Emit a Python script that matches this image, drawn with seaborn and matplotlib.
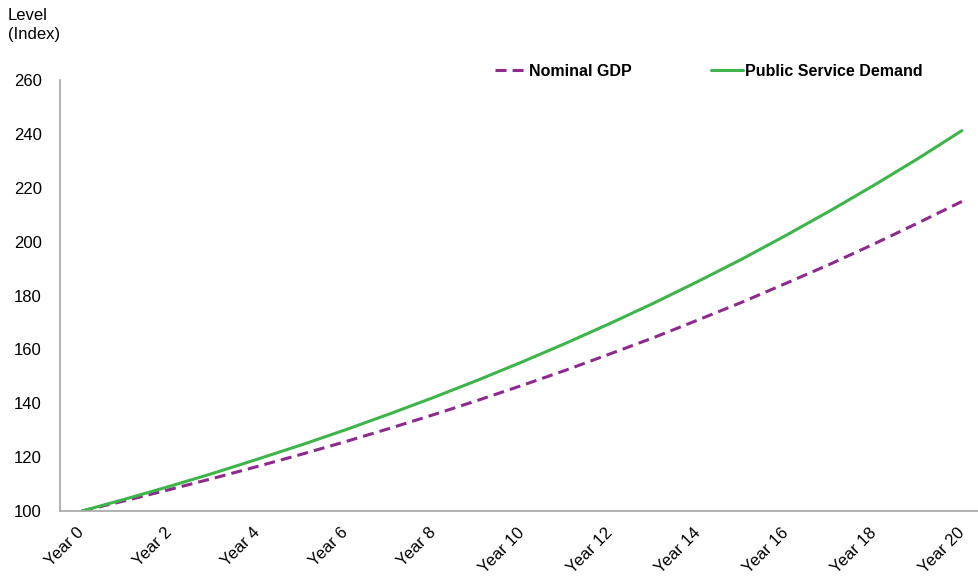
import matplotlib
matplotlib.use("Agg")
import matplotlib.pyplot as plt
import seaborn as sns
import pandas as pd

# Index levels (Year 0 = 100)
years = list(range(21))
nominal_gdp = [100.0, 103.9, 108.0, 112.2, 116.6, 121.1, 125.8, 130.7, 135.8, 141.1,
               146.6, 152.3, 158.3, 164.4, 170.9, 177.5, 184.5, 191.6, 199.1, 206.9, 214.9]
public_service_demand = [100.0, 104.5, 109.2, 114.1, 119.3, 124.6, 130.2, 136.1, 142.2, 148.6,
                         155.3, 162.3, 169.6, 177.2, 185.2, 193.5, 202.3, 211.4, 220.9, 230.8, 241.2]
tick_labels = [f"Year {y}" if y % 2 == 0 else "" for y in years]
y_ticks = [100, 120, 140, 160, 180, 200, 220, 240, 260]

sns.set_theme(style="white")
plt.rcParams["font.family"] = ["Liberation Sans", "DejaVu Sans"]
plt.rcParams["text.color"] = "black"

df = pd.DataFrame({
    "year": years * 2,
    "level": nominal_gdp + public_service_demand,
    "series": ["Nominal GDP"] * 21 + ["Public Service Demand"] * 21,
})

fig = plt.figure(figsize=(9.79, 5.76), dpi=100)
ax = fig.add_axes([60 / 979, 65 / 576, 919 / 979, 431 / 576])

palette = {"Nominal GDP": "#8E2A8E", "Public Service Demand": "#3DB54A"}
sns.lineplot(data=df, x="year", y="level", hue="series", style="series",
             palette=palette,
             dashes={"Nominal GDP": (3.6, 2.0), "Public Service Demand": ""},
             linewidth=2.2, ax=ax, legend=True)

ax.set_xlim(-0.5, 20.39)
ax.set_ylim(100, 260)
ax.set_yticks(y_ticks)
ax.set_yticklabels([str(v) for v in y_ticks], fontsize=12)
ax.set_xticks(years)
ax.set_xticklabels(tick_labels, rotation=45, ha="right", va="center",
                   rotation_mode="anchor", fontsize=12)
ax.set_xlabel("")
ax.set_ylabel("")

for side in ("top", "right"):
    ax.spines[side].set_visible(False)
for side in ("left", "bottom"):
    ax.spines[side].set_color("#A6A6A6")
    ax.spines[side].set_linewidth(1.2)
ax.tick_params(axis="both", which="major", direction="out", length=5, width=1.2,
               color="#A6A6A6", labelcolor="#000000")
ax.tick_params(axis="y", pad=8)
ax.tick_params(axis="x", pad=9)

fig.text(8 / 979, 1 - 8 / 576, "Level\n(Index)", fontsize=12, va="top", ha="left",
         linespacing=1.35, color="black")

handles, labels = ax.get_legend_handles_labels()
leg = ax.legend(handles, labels, ncol=2, loc="upper left",
                bbox_to_anchor=(495 / 979, 1 - 64 / 576), bbox_transform=fig.transFigure,
                frameon=False, handlelength=2.0, handletextpad=0.1, columnspacing=5.0,
                prop={"weight": "bold", "size": 11.5}, borderaxespad=0, borderpad=0)
for t in leg.get_texts():
    t.set_color("black")

fig.savefig("out.png", dpi=100)
